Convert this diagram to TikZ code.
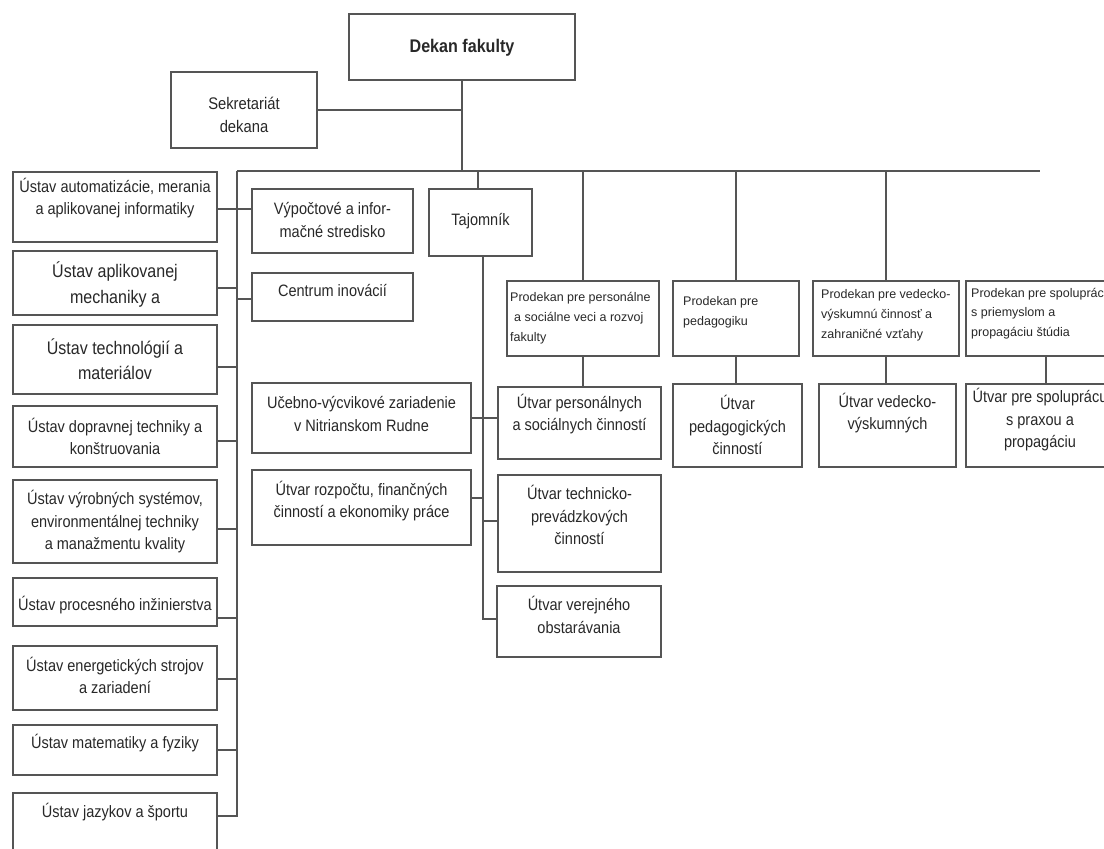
\documentclass[tikz,border=0pt]{standalone}
\usepackage{fontspec}
\setmainfont{Liberation Sans}[FakeStretch=0.88]
\newfontfamily\plainsans{Liberation Sans}
\usetikzlibrary{positioning}
\definecolor{linegray}{RGB}{85,85,85}
\definecolor{textgray}{RGB}{40,40,40}
\tikzset{
  box/.style={draw=linegray, line width=1.8pt, rectangle, inner sep=0pt},
  conn/.style={draw=linegray, line width=1.8pt},
  lbl/.style={text=textgray, align=center, inner sep=0pt, font=\fontsize{16.5}{22.5}\selectfont},
  biglbl/.style={lbl, font=\fontsize{18.2}{25.5}\selectfont},
  smalllbl/.style={lbl, align=left, anchor=west, font=\plainsans\fontsize{12.5}{19.8}\selectfont}
}
\begin{document}
\begin{tikzpicture}[x=1pt,y=-1pt]
  \useasboundingbox (0,0) rectangle (1104,849);
  \fill[white] (0,0) rectangle (1104,849);
  \clip (0,0) rectangle (1104,849);

  % top
  \node[box, minimum width=226pt, minimum height=66pt] (dekan) at (462,47) {};
  \node[lbl, font=\bfseries\fontsize{18.3}{20}\selectfont] (dekan-t) at (462,48) {Dekan fakulty};
  \node[box, minimum width=146pt, minimum height=76pt] (sek) at (244,110) {};
  \node[lbl, font=\fontsize{16.8}{23}\selectfont] (sek-t) at (244,115) {Sekretariát\\dekana};
  \coordinate (busL) at (237,171);

  % ustavy
  \node[box, minimum width=204pt, minimum height=70pt] (ust1) at (115,207) {};
  \node[lbl] (ust1-t) at (115,198) {Ústav automatizácie, merania\\a aplikovanej informatiky};
  \node[box, minimum width=204pt, minimum height=64pt] (ust2) at (115,283) {};
  \node[biglbl] (ust2-t) at (115,284.5) {Ústav aplikovanej\\mechaniky a};
  \node[box, minimum width=204pt, minimum height=69pt] (ust3) at (115,359.5) {};
  \node[biglbl] (ust3-t) at (115,359) {Ústav technológií a\\materiálov};
  \node[box, minimum width=204pt, minimum height=61pt] (ust4) at (115,436.5) {};
  \node[lbl] (ust4-t) at (115,436.5) {Ústav dopravnej techniky a\\konštruovania};
  \node[box, minimum width=204pt, minimum height=83pt] (ust5) at (115,521.5) {};
  \node[lbl] (ust5-t) at (115,522) {Ústav výrobných systémov,\\environmentálnej techniky\\a manažmentu kvality};
  \node[box, minimum width=204pt, minimum height=48pt] (ust6) at (115,602) {};
  \node[lbl] (ust6-t) at (115,605) {Ústav procesného inžinierstva};
  \node[box, minimum width=204pt, minimum height=64pt] (ust7) at (115,678) {};
  \node[lbl] (ust7-t) at (115,675.5) {Ústav energetických strojov\\a zariadení};
  \node[box, minimum width=204pt, minimum height=50pt] (ust8) at (115,750) {};
  \node[lbl] (ust8-t) at (115,743) {Ústav matematiky a fyziky};
  \node[box, minimum width=204pt, minimum height=77pt] (ust9) at (115,831.5) {};
  \node[lbl] (ust9-t) at (115,812) {Ústav jazykov a športu};

  % stred
  \node[box, minimum width=161pt, minimum height=64pt] (vyp) at (332.5,221) {};
  \node[lbl] (vyp-t) at (332.5,220) {Výpočtové a infor-\\mačné stredisko};
  \node[box, minimum width=161pt, minimum height=48pt] (cent) at (332.5,297) {};
  \node[lbl] (cent-t) at (332.5,291) {Centrum inovácií};
  \node[box, minimum width=103pt, minimum height=67pt] (taj) at (480.5,222.5) {};
  \node[lbl] (taj-t) at (480.5,221) {Tajomník};
  \node[box, minimum width=219pt, minimum height=70pt] (uceb) at (361.5,418) {};
  \node[lbl] (uceb-t) at (361.5,414) {Učebno-výcvikové zariadenie\\v Nitrianskom Rudne};
  \node[box, minimum width=219pt, minimum height=75pt] (rozp) at (361.5,507.5) {};
  \node[lbl] (rozp-t) at (361.5,501) {Útvar rozpočtu, finančných\\činností a ekonomiky práce};
  \node[box, minimum width=163pt, minimum height=72pt] (utper) at (579.5,423) {};
  \node[lbl] (utper-t) at (579.5,414) {Útvar personálnych\\a sociálnych činností};
  \node[box, minimum width=163pt, minimum height=97pt] (uttech) at (579.5,523.5) {};
  \node[lbl] (uttech-t) at (579.5,515) {Útvar technicko-\\prevádzkových\\činností};
  \node[box, minimum width=164pt, minimum height=71pt] (utver) at (579,621.5) {};
  \node[lbl] (utver-t) at (579,615) {Útvar verejného\\obstarávania};

  % prodekani
  \node[box, minimum width=152pt, minimum height=75pt] (p1) at (583,318.5) {};
  \node[smalllbl] (p1-t) at (510,318) {Prodekan pre personálne\\\hspace*{4pt}a sociálne veci a rozvoj\\fakulty};
  \node[box, minimum width=126pt, minimum height=75pt] (p2) at (736,318.5) {};
  \node[smalllbl] (p2-t) at (683,312) {Prodekan pre\\pedagogiku};
  \node[box, minimum width=146pt, minimum height=75pt] (p3) at (886,318.5) {};
  \node[smalllbl] (p3-t) at (821,315) {Prodekan pre vedecko-\\výskumnú činnosť a\\zahraničné vzťahy};
  \node[box, minimum width=148pt, minimum height=75pt] (p4) at (1040,318.5) {};
  \node[smalllbl] (p4-t) at (971,313.5) {Prodekan pre spoluprácu\\s priemyslom a\\propagáciu štúdia};

  \node[box, minimum width=129pt, minimum height=83pt] (u2) at (737.5,425.5) {};
  \node[lbl] (u2-t) at (737.5,425) {Útvar\\pedagogických\\činností};
  \node[box, minimum width=137pt, minimum height=83pt] (u3) at (887.5,425.5) {};
  \node[lbl] (u3-t) at (887.5,413) {Útvar vedecko-\\výskumných};
  \node[box, minimum width=148pt, minimum height=83pt] (u4) at (1040,425.5) {};
  \node[lbl] (u4-t) at (1040,420) {Útvar pre spoluprácu\\s praxou a\\propagáciu};

  % spojnice
  \draw[conn] (dekan.south) -- (dekan.south |- busL);
  \draw[conn] (sek.east) -- (sek.east -| dekan.south);
  \draw[conn] (busL) -- (p4.north |- busL);
  \draw[conn] ([yshift=-2pt]ust1.east) -- ([yshift=12pt]vyp.west);
  \draw[conn] ([yshift=-5pt]ust2.east) -| (busL);
  \draw[conn] ([yshift=-7.5pt]ust3.east) -| (busL);
  \draw[conn] ([yshift=-4.5pt]ust4.east) -| (busL);
  \draw[conn] ([yshift=-7.5pt]ust5.east) -| (busL);
  \draw[conn] ([yshift=-16pt]ust6.east) -| (busL);
  \draw[conn] ([yshift=-1pt]ust7.east) -| (busL);
  \draw[conn] (ust8.east) -| (busL);
  \draw[conn] ([yshift=15.5pt]ust9.east) -| (busL);
  \draw[conn] ([yshift=-2pt]cent.west) -| (busL);
  \draw[conn] ([xshift=-2.5pt]taj.north) -- ([xshift=-2.5pt]taj.north |- busL);
  \draw[conn] ([xshift=2.5pt]taj.south) |- ([yshift=2.5pt]utver.west);
  \draw[conn] (uceb.east) -- (uceb.east -| utper.west);
  \draw[conn] ([yshift=9.5pt]rozp.east) -| ([xshift=2.5pt]taj.south);
  \draw[conn] ([yshift=2.5pt]uttech.west) -| ([xshift=2.5pt]taj.south);
  \draw[conn] (p1.north) -- (p1.north |- busL);
  \draw[conn] (p2.north) -- (p2.north |- busL);
  \draw[conn] (p3.north) -- (p3.north |- busL);
  \draw[conn] (p1.south) -- (p1.south |- utper.north);
  \draw[conn] (p2.south) -- (p2.south |- u2.north);
  \draw[conn] (p3.south) -- (p3.south |- u3.north);
  \draw[conn] ([xshift=6pt]p4.south) -- ([xshift=6pt]u4.north);
\end{tikzpicture}
\end{document}
